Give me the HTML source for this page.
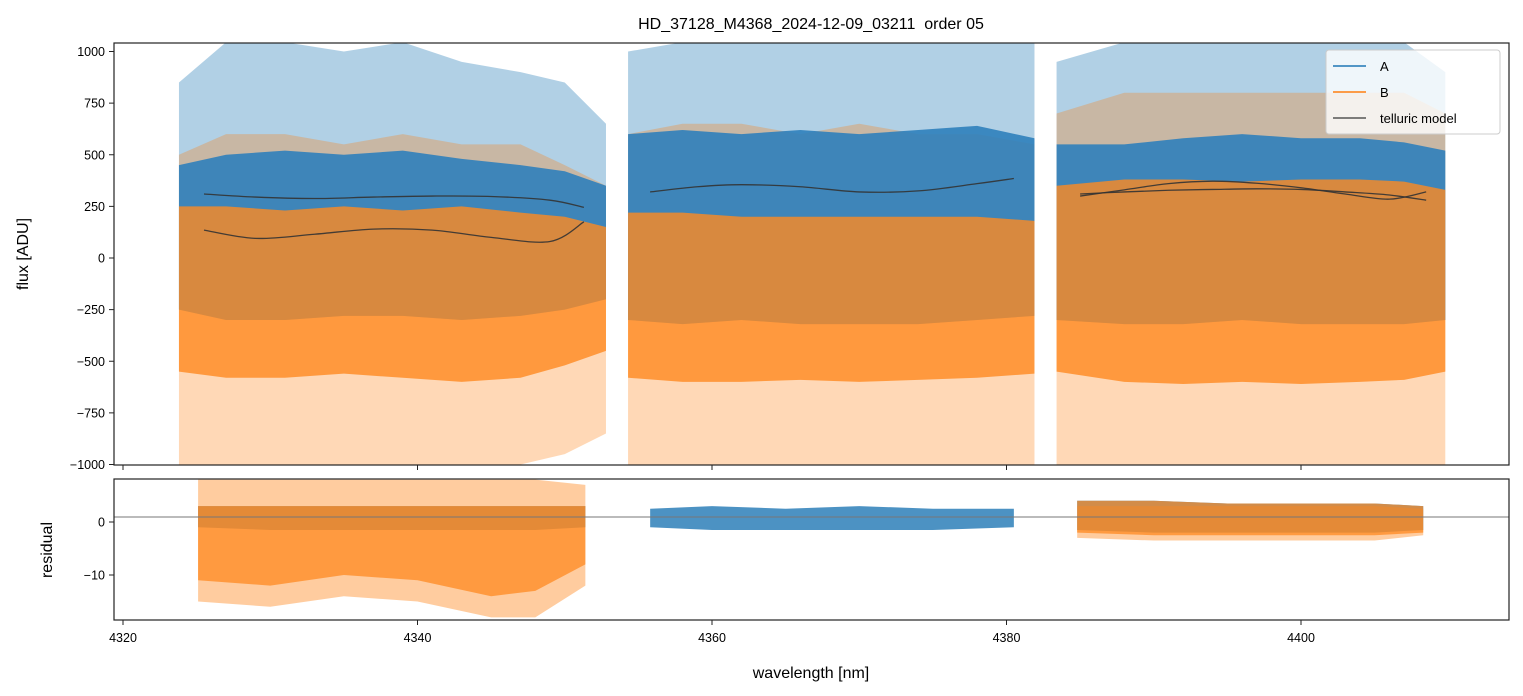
<!DOCTYPE html>
<html><head><meta charset="utf-8"><style>
html,body{margin:0;padding:0;background:#fff;}
svg{display:block;font-family:"Liberation Sans","DejaVu Sans",sans-serif;}
</style></head><body>
<svg id="chart" width="1523" height="696" viewBox="0 0 1523 696">
<rect width="1523" height="696" fill="#fff"/>
<text x="811" y="29" text-anchor="middle" font-size="16" fill="#000" style="white-space:pre">HD_37128_M4368_2024-12-09_03211  order 05</text>
<defs>
<clipPath id="ctop"><rect x="114" y="43" width="1395" height="422"/></clipPath>
<clipPath id="cbot"><rect x="114" y="479" width="1395" height="141"/></clipPath>
</defs>
<g id="gtop" clip-path="url(#ctop)"></g>
<g id="gbot" clip-path="url(#cbot)"></g>
<g id="axes"></g>
<text transform="translate(28,254) rotate(-90)" text-anchor="middle" font-size="16">flux [ADU]</text>
<text transform="translate(52,550) rotate(-90)" text-anchor="middle" font-size="16">residual</text>
<text x="811" y="678" text-anchor="middle" font-size="16">wavelength [nm]</text>
<g>
<rect x="1326" y="50" width="174" height="84" rx="3" fill="#fff" fill-opacity="0.8" stroke="#ccc"/>
<line x1="1333" y1="66" x2="1366" y2="66" stroke="#1f77b4" stroke-width="1.5"/>
<text x="1380" y="71" font-size="13">A</text>
<line x1="1333" y1="92" x2="1366" y2="92" stroke="#ff7f0e" stroke-width="1.5"/>
<text x="1380" y="97" font-size="13">B</text>
<line x1="1333" y1="118" x2="1366" y2="118" stroke="#555" stroke-width="1.5"/>
<text x="1380" y="123" font-size="13">telluric model</text>
</g>
</svg>
<script>
const segW = [
  [4323.8,4327,4331,4335,4339,4343,4347,4350,4352.8],
  [4354.3,4358,4362,4366,4370,4374,4378,4381.9],
  [4383.4,4388,4392,4396,4400,4404,4407,4409.8]
];
const aSpike = [[850,1045,1045,1000,1045,950,900,850,650],[1000,1045,1045,1045,1045,1045,1045,1045],[950,1045,1045,1045,1045,1045,1045,900]];
const aHigh = [[450,500,520,500,520,480,450,420,350],[600,620,600,620,600,620,640,580],[550,550,580,600,580,580,560,520]];
const aLow = [[-250,-300,-300,-280,-280,-300,-280,-250,-200],[-300,-320,-300,-320,-320,-320,-300,-280],[-300,-320,-320,-300,-320,-320,-320,-300]];
const bSpikeHi = [[500,600,600,550,600,550,550,450,350],[600,650,650,600,650,600,600,550],[700,800,800,800,800,800,800,700]];
const bHigh = [[250,250,230,250,230,250,220,200,150],[220,220,200,200,200,200,200,180],[350,380,380,370,380,380,370,330]];
const bLow = [[-550,-580,-580,-560,-580,-600,-580,-520,-450],[-580,-600,-600,-590,-600,-590,-580,-560],[-550,-600,-610,-600,-610,-600,-590,-550]];
const bSpike = [[-1000,-1000,-1000,-1000,-1000,-1000,-1000,-950,-850],[-1000,-1000,-1000,-1000,-1000,-1000,-1000,-1000],[-1000,-1000,-1000,-1000,-1000,-1000,-1000,-1000]];
const tellW = [[4325.5,4329,4333,4337,4341,4345,4349,4351.3],[4325.5,4329,4333,4337,4341,4345,4349,4351.3],[4355.8,4359,4362,4366,4370,4374,4378,4380.5],[4385,4388,4391,4394,4397,4400,4403,4406,4408.5],[4385,4388,4391,4394,4397,4400,4403,4406,4408.5]];
const tellV = [[310,295,288,295,300,298,280,245],[135,95,115,140,135,100,80,175],[320,345,355,345,320,325,360,385],[300,330,360,372,362,340,310,285,320],[310,320,328,332,335,332,320,305,280]];
const resW = [[4325.1,4330,4335,4340,4345,4348,4351.4],[4355.8,4360,4365,4370,4375,4380.5],[4384.8,4390,4395,4400,4405,4408.3]];
const resAHi = [[3,3,3,3,3,3,3],[2.5,3,2.5,3,2.5,2.5],[4,4,3.5,3.5,3.5,3]];
const resALo = [[-1,-1.5,-1.5,-1.5,-1.5,-1.5,-1],[-1,-1.5,-1.5,-1.5,-1.5,-1],[-1.5,-2,-2,-2,-2,-1.5]];
const resBHi = [[8,8,8,8,8,8,7],null,[3,3,3,3,3,2.5]];
const resBLo = [[-15,-16,-14,-15,-18,-18,-12],null,[-3,-3.5,-3.5,-3.5,-3.5,-2.5]];
const resBCoreLo = [[-11,-12,-10,-11,-14,-13,-8],null,[-2,-2.5,-2.5,-2.5,-2.5,-2]];
const xTicks = [4320,4340,4360,4380,4400];
const yTicksTop = [1000,750,500,250,0,-250,-500,-750,-1000];
const yTickLabelsTop = ["1000","750","500","250","0","\u2212250","\u2212500","\u2212750","\u22121000"];
const yTicksBot = [0,-10];
const yTickLabelsBot = ["0","\u221210"];

const X = w => 123 + (w-4320)*14.725;
const YT = v => 258 - v*0.2065;
const YB = v => 522 - v*5.3;
const NS="http://www.w3.org/2000/svg";
function mk(tag,attrs,parent){const e=document.createElementNS(NS,tag);for(const k in attrs)e.setAttribute(k,attrs[k]);parent.appendChild(e);return e;}
function band(ws,hi,lo,Y){let p=ws.map((w,i)=>X(w)+','+Y(hi[i]));for(let i=ws.length-1;i>=0;i--)p.push(X(ws[i])+','+Y(lo[i]));return p.join(' ');}
function smooth(pts){let d='M'+pts[0][0]+','+pts[0][1];for(let i=0;i<pts.length-1;i++){const p0=pts[i-1]||pts[i],p1=pts[i],p2=pts[i+1],p3=pts[i+2]||p2;d+=' C'+(p1[0]+(p2[0]-p0[0])/6)+','+(p1[1]+(p2[1]-p0[1])/6)+' '+(p2[0]-(p3[0]-p1[0])/6)+','+(p2[1]-(p3[1]-p1[1])/6)+' '+p2[0]+','+p2[1];}return d;}
const gTop=document.getElementById('gtop'), gBot=document.getElementById('gbot'), gAxes=document.getElementById('axes');
segW.forEach((ws,s)=>{
  let e;
  e=mk('polygon',{points:band(ws,aSpike[s],aLow[s],YT),fill:'#1f77b4','fill-opacity':0.35},gTop);
  
  
  e=mk('polygon',{points:band(ws,bSpikeHi[s],bSpike[s],YT),fill:'#ff7f0e','fill-opacity':0.3},gTop);
  
  
  e=mk('polygon',{points:band(ws,aHigh[s],aLow[s],YT),fill:'#2f80bb','fill-opacity':0.9},gTop);
  
  
  e=mk('polygon',{points:band(ws,bHigh[s],bLow[s],YT),fill:'#ff8a20','fill-opacity':0.8},gTop);
  
  
});
tellW.forEach((ws,c)=>{
  const pts=ws.map((w,i)=>[X(w),YT(tellV[c][i])]);
  const e=mk('path',{d:smooth(pts),fill:'none',stroke:'#333',"stroke-width":1.3,"stroke-opacity":0.9},gTop);
  
  
});
resW.forEach((ws,s)=>{
  let e=mk('polygon',{points:band(ws,resAHi[s],resALo[s],YB),fill:'#1f77b4','fill-opacity':0.8},gBot);
  
  
  if(resBHi[s]){
    e=mk('polygon',{points:band(ws,resBHi[s],resBLo[s],YB),fill:'#ff7f0e','fill-opacity':0.4},gBot);
    
    
    e=mk('polygon',{points:band(ws,resAHi[s],resBCoreLo[s],YB),fill:'#ff8a20','fill-opacity':0.75},gBot);
    
    
  }
});
const zl=mk('line',{x1:114,x2:1509,y1:517,y2:517,stroke:'#777','stroke-width':1},gBot);


[[43,465],[479,620]].forEach(([y0,y1])=>{
  const r=mk('rect',{x:114,y:y0,width:1395,height:y1-y0,fill:'none',stroke:'#222','stroke-width':1.2},gAxes);
  
  
});
xTicks.forEach(t=>{
  const x=X(t);
  mk('line',{x1:x,x2:x,y1:465,y2:470,stroke:'#222'},gAxes);
  mk('line',{x1:x,x2:x,y1:620,y2:625,stroke:'#222'},gAxes);
  const tx=mk('text',{x:x,y:642,'text-anchor':'middle','font-size':12.5},gAxes);
  tx.textContent=t;
  
  
});
yTicksTop.forEach((t,i)=>{
  const y=YT(t);
  mk('line',{x1:109,x2:114,y1:y,y2:y,stroke:'#222'},gAxes);
  const tx=mk('text',{x:105,y:y+4.5,'text-anchor':'end','font-size':12.5},gAxes);
  tx.textContent=yTickLabelsTop[i];
  
  
});
yTicksBot.forEach((t,i)=>{
  const y=YB(t);
  mk('line',{x1:109,x2:114,y1:y,y2:y,stroke:'#222'},gAxes);
  const tx=mk('text',{x:105,y:y+4.5,'text-anchor':'end','font-size':12.5},gAxes);
  tx.textContent=yTickLabelsBot[i];
  
  
});
</script>
</body></html>
